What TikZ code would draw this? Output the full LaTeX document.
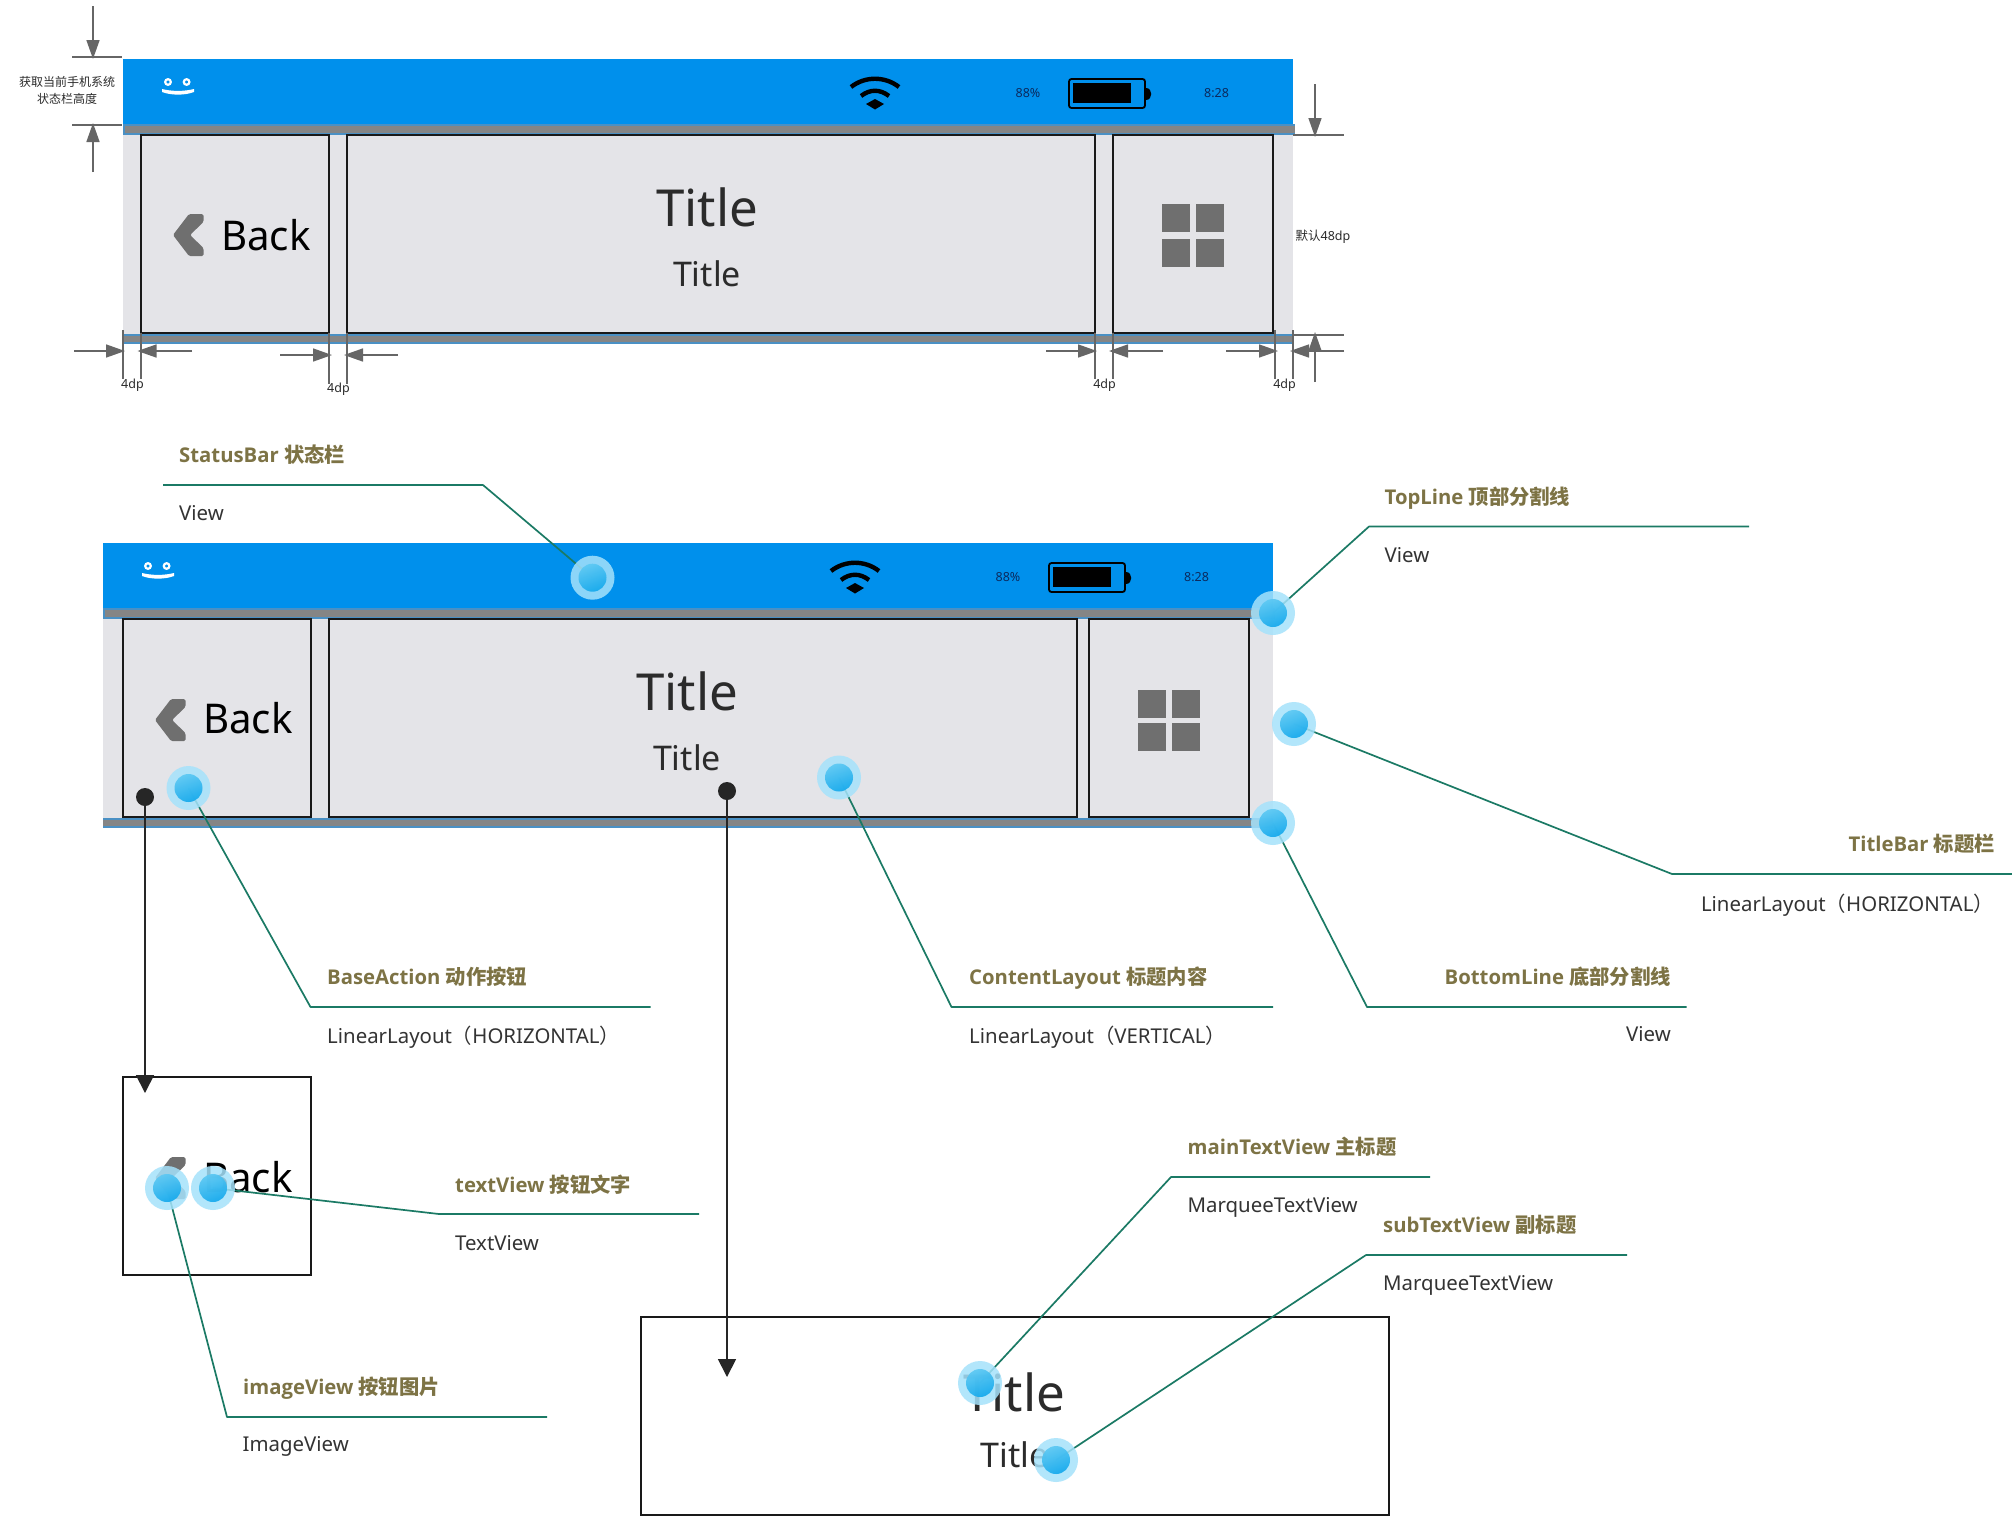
\documentclass[tikz,border=0pt]{standalone}
\usepackage{fontspec}
\setmainfont{Noto Sans}
\newfontfamily\cjk{Noto Sans CJK SC}
\newfontfamily\labfont{Open Sans}
\usetikzlibrary{arrows.meta,calc}
\definecolor{statusblue}{HTML}{0090EC}
\definecolor{barbg}{HTML}{E4E4E8}
\definecolor{linegray}{HTML}{858585}
\definecolor{lineblue}{HTML}{4A90C4}
\definecolor{icongray}{HTML}{6F6F6F}
\definecolor{labelcol}{HTML}{7D7345}
\definecolor{desccol}{HTML}{333333}
\definecolor{callcol}{HTML}{1B7A65}
\definecolor{dimcol}{HTML}{666666}
\definecolor{halocol}{HTML}{A5E2FB}
\definecolor{coretop}{HTML}{5CC8F3}
\definecolor{corebot}{HTML}{12A8EC}
\definecolor{darktxt}{HTML}{2B2B2B}
\definecolor{navytxt}{HTML}{0B2A5E}
\newcommand{\cj}[1]{{\cjk #1}}
\newcommand{\fsz}[1]{\fontsize{#1}{#1}\selectfont}
\tikzset{
  x=1pt,y=-1pt,
  labelst/.style={font=\fsz{20.3}\labfont\bfseries,text=labelcol,inner sep=0pt},
  descst/.style={font=\fsz{20.4},text=desccol,inner sep=0pt},
  smallst/.style={font=\fsz{12.5},text=darktxt,inner sep=0pt},
  capst/.style={font=\fsz{12},text=darktxt,inner sep=0pt},
  statusst/.style={font=\fsz{12.5},text=navytxt,inner sep=0pt},
  bigtitle/.style={font=\fsz{51},text=darktxt,inner sep=0pt,anchor=base},
  subtitle/.style={font=\fsz{34},text=darktxt,inner sep=0pt,anchor=base},
  backst/.style={font=\fsz{41},text=black,inner sep=0pt,anchor=base west,xscale=.98},
  callout/.style={draw=callcol,line width=1.7pt,line join=round},
  dimline/.style={draw=dimcol,line width=1.5pt,-{Triangle[length=19pt,width=13pt,fill=dimcol]}},
  tickline/.style={draw=dimcol,line width=1.5pt},
  boxst/.style={draw=black!90,line width=2pt},
  detailbox/.style={draw=black!90,line width=2pt,fill=white,anchor=north west,inner sep=0pt,outer sep=0pt},
  flowline/.style={draw=black!85,line width=1.7pt,-{Triangle[length=18pt,width=18pt,fill=black!85]}},
  flowdot/.style={circle,fill=black!85,minimum size=18pt,inner sep=0pt},
  halo/.style={circle,fill=halocol,fill opacity=.85,minimum size=44pt,inner sep=0pt},
  core/.style={circle,top color=coretop,bottom color=corebot,shading angle=20,fill opacity=.92,minimum size=28pt,inner sep=0pt},
}
\newcommand{\spot}[2]{%
  \node[halo] (#1) at (#2) {};
  \node[core] (#1c) at (#2) {};}
\newcommand{\dimarrow}[3]{%
  \coordinate (#1s) at (#2); \coordinate (#1e) at (#3);
  \draw[dimline] (#1s) -- (#1e);}
\newcommand{\ticks}[3]{%
  \coordinate (#1s) at (#2); \coordinate (#1e) at (#3);
  \draw[tickline] (#1s) -- (#1e);}
% chevron anchored at its tip
\newcommand{\chevron}[1]{%
  \fill[icongray,rounded corners=1.5pt] ($(#1)+(0,21)$) -- ($(#1)+(16,0)$) -- ($(#1)+(30.5,0)$) -- ($(#1)+(30.5,8)$) -- ($(#1)+(17,21)$) -- ($(#1)+(30.5,34)$) -- ($(#1)+(30.5,42)$) -- ($(#1)+(16,42)$) -- cycle;}
% status bar and title bar
\newcommand{\phonebar}[3]{%
\begin{scope}[shift={(#1,#2)}]
  \fill[barbg] (123,134) rectangle (1293,334);
  \fill[statusblue] (123,59) rectangle (1293,125);
  \fill[lineblue] (123,124) rectangle (1295,135);
  \fill[linegray] (125,125.5) rectangle (1295,133);
  \fill[lineblue] (123,334) rectangle (1293,344);
  \fill[linegray] (123,336) rectangle (1293,342);
  % smile
  \draw[white,line width=2.2pt] (168,82) circle (2.8);
  \draw[white,line width=2.2pt] (186.6,82) circle (2.8);
  \fill[white] (162,89) .. controls (172,91.5) and (184,91.5) .. (194,89) -- (194,92) .. controls (185,95.5) and (171,95.5) .. (162,92) -- cycle;
  % wifi
  \draw[black,line width=4.4pt] (851,87) .. controls (865,76) and (885,76) .. (899,87);
  \draw[black,line width=4.4pt] (861,96) .. controls (870,89) and (880,89) .. (889,96);
  \fill[black] (866,104) -- (875,99) -- (884,104) -- (875,109.5) -- cycle;
  % battery
  \node[statusst] (#3pct) at (1028,93) {88\%};
  \draw[black,line width=1.8pt,rounded corners=2.5pt] (1069,79) rectangle (1145,108);
  \fill[black] (1073,83) rectangle (1131,103);
  \fill[black] (1146,88) .. controls (1153,88) and (1153,100) .. (1146,100) -- cycle;
  \node[statusst] (#3time) at (1216.5,93) {8:28};
  % texts
  \node[bigtitle] (#3title) at (707,226) {Title};
  \node[subtitle] (#3sub) at (707,286.5) {Title};
\end{scope}}
\begin{document}
\begin{tikzpicture}
\useasboundingbox (0,0) rectangle (2012,1516);
\fill[white] (0,0) rectangle (2012,1516);

%%%%%%%%%% top bar
\phonebar{0}{0}{a}
\draw[boxst] (141,134.5) rectangle (329,333);
\draw[boxst] (347,134.5) rectangle (1095,333);
\draw[boxst] (1113,134.5) rectangle (1273,333);
\chevron{173,214}
\node[backst] (aback) at (221,250) {Back};
\foreach \gx/\gy in {1162/204,1196/204,1162/238.5,1196/238.5}
  \fill[icongray] (\gx,\gy) rectangle ++(27.5,28);

% dimensions, top bar
\ticks{t1}{72,57}{122,57}
\ticks{t2}{72,125}{122,125}
\dimarrow{d1}{93,6}{93,59}
\dimarrow{d2}{93,172}{93,123}
\node[capst] (cap1) at (67,82) {\cj{获取当前手机系统}};
\node[capst] (cap2) at (67,99) {\cj{状态栏高度}};
\ticks{t3}{1293,135}{1344,135}
\ticks{t4}{1293,335}{1344,335}
\dimarrow{d3}{1315,84}{1315,137}
\dimarrow{d4}{1315,382}{1315,332}
\node[smallst] (cap3) at (1323,237) {\cj{默认}48dp};
\ticks{v1}{123,330}{123,379}
\ticks{v2}{141,333}{141,379}
\ticks{v3}{329,333}{329,384}
\ticks{v4}{347,333}{347,384}
\ticks{v5}{1095,333}{1095,379}
\ticks{v6}{1113,333}{1113,379}
\ticks{v7}{1275,330}{1275,379}
\ticks{v8}{1293,330}{1293,379}
\dimarrow{h1}{74,351}{125,351}
\dimarrow{h2}{192,351}{137.5,351}
\dimarrow{h3}{280,355}{332,355}
\dimarrow{h4}{398,355}{344,355}
\dimarrow{h5}{1046,351}{1097,351}
\dimarrow{h6}{1163,351}{1109,351}
\dimarrow{h7}{1226,351}{1278,351}
\dimarrow{h8}{1344,351}{1290,351}
\node[smallst] (dp1) at (132.5,385.5) {4dp};
\node[smallst] (dp2) at (338.5,389.5) {4dp};
\node[smallst] (dp3) at (1104.5,385.5) {4dp};
\node[smallst] (dp4) at (1284.5,385.5) {4dp};

%%%%%%%%%% second bar
\phonebar{-20}{484}{b}
\draw[boxst] (123,618.5) rectangle (311,816.7);
\draw[boxst] (329,618.5) rectangle (1076.5,816.7);
\draw[boxst] (1089,618.5) rectangle (1249,816.7);
\chevron{155,699}
\node[backst] (bback) at (203,733.5) {Back};
\foreach \gx/\gy in {1138,1172}
  \foreach \hy in {690,723}
    \fill[icongray] (\gx,\hy) rectangle ++(27.5,27.5);

%%%%%%%%%% detail boxes
\node[detailbox,minimum width=188pt,minimum height=198pt] (smallbox) at (123,1076.5) {};
\chevron{155,1157}
\node[backst] (cback) at (203,1192) {Back};
\node[detailbox,minimum width=748pt,minimum height=197.5pt] (bigbox) at (641,1317) {};
\node[bigtitle] (ctitle) at (1014,1411.5) {Title};
\node[subtitle] (csub) at (1014.5,1467.5) {Title};

%%%%%%%%%% flow arrows
\node[flowdot] (fa) at (145,797) {};
\node[flowdot] (fb) at (727,791) {};
\coordinate (fae) at (145,1093);
\coordinate (fbe) at (727,1377);
\draw[flowline] (fa.center) -- (fae);
\draw[flowline] (fb.center) -- (fbe);

%%%%%%%%%% callout anchors
\coordinate (s0) at (592.5,577.7);
\coordinate (s1) at (1273,613);
\coordinate (s2) at (1294,724);
\coordinate (s3) at (1273,823);
\coordinate (s4) at (188.5,788);
\coordinate (s5) at (839,777.5);
\coordinate (s6) at (167,1188);
\coordinate (s7) at (213,1188);
\coordinate (s8) at (980,1383);
\coordinate (s9) at (1056,1460);

\draw[callout] (s0) -- (483,485) coordinate (k0) -- (163,485) coordinate (e0);
\draw[callout] (s1) -- (1369,526.5) coordinate (k1) -- (1749,526.5) coordinate (e1);
\draw[callout] (s2) -- (1672,874) coordinate (k2) -- (2012,874) coordinate (e2);
\draw[callout] (s3) -- (1367,1007) coordinate (k3) -- (1686.5,1007) coordinate (e3);
\draw[callout] (s4) -- (310.5,1007) coordinate (k4) -- (650.5,1007) coordinate (e4);
\draw[callout] (s5) -- (951.5,1007) coordinate (k5) -- (1273,1007) coordinate (e5);
\draw[callout] (s6) -- (227,1417) coordinate (k6) -- (547,1417) coordinate (e6);
\draw[callout] (s7) -- (439,1214) coordinate (k7) -- (699,1214) coordinate (e7);
\draw[callout] (s8) -- (1171,1177) coordinate (k8) -- (1430,1177) coordinate (e8);
\draw[callout] (s9) -- (1366,1255) coordinate (k9) -- (1627,1255) coordinate (e9);

\spot{p0}{s0}
\spot{p1}{s1}
\spot{p2}{s2}
\spot{p3}{s3}
\spot{p4}{s4}
\spot{p5}{s5}
\spot{p6}{s6}
\spot{p7}{s7}
\spot{p8}{s8}
\spot{p9}{s9}

%%%%%%%%%% callout texts
\node[labelst,anchor=base west] (l0) at (179,462) {StatusBar \cj{状态栏}};
\node[descst,anchor=base west] (m0) at (179,520) {View};
\node[labelst,anchor=base west] (l1) at (1384.5,504.5) {TopLine \cj{顶部分割线}};
\node[descst,anchor=base west] (m1) at (1384.5,562) {View};
\node[labelst,anchor=base east] (l2) at (1995,851) {TitleBar \cj{标题栏}};
\node[descst,anchor=base east] (m2) at (1994,911.5) {LinearLayout\cj{（}HORIZONTAL\cj{）}};
\node[labelst,anchor=base east] (l3) at (1671,984) {BottomLine \cj{底部分割线}};
\node[descst,anchor=base east] (m3) at (1671,1041.5) {View};
\node[labelst,anchor=base west] (l4) at (327,984) {BaseAction \cj{动作按钮}};
\node[descst,anchor=base west] (m4) at (327,1043.5) {LinearLayout\cj{（}HORIZONTAL\cj{）}};
\node[labelst,anchor=base west] (l5) at (969,984) {ContentLayout \cj{标题内容}};
\node[descst,anchor=base west] (m5) at (969,1043.5) {LinearLayout\cj{（}VERTICAL\cj{）}};
\node[labelst,anchor=base west] (l6) at (243,1394) {imageView \cj{按钮图片}};
\node[descst,anchor=base west] (m6) at (242.5,1451.5) {ImageView};
\node[labelst,anchor=base west] (l7) at (455,1192) {textView \cj{按钮文字}};
\node[descst,anchor=base west] (m7) at (455,1250) {TextView};
\node[labelst,anchor=base west] (l8) at (1187.5,1154) {mainTextView \cj{主标题}};
\node[descst,anchor=base west] (m8) at (1187.5,1212.5) {MarqueeTextView};
\node[labelst,anchor=base west] (l9) at (1383,1232) {subTextView \cj{副标题}};
\node[descst,anchor=base west] (m9) at (1383,1290) {MarqueeTextView};
\end{tikzpicture}
\end{document}
